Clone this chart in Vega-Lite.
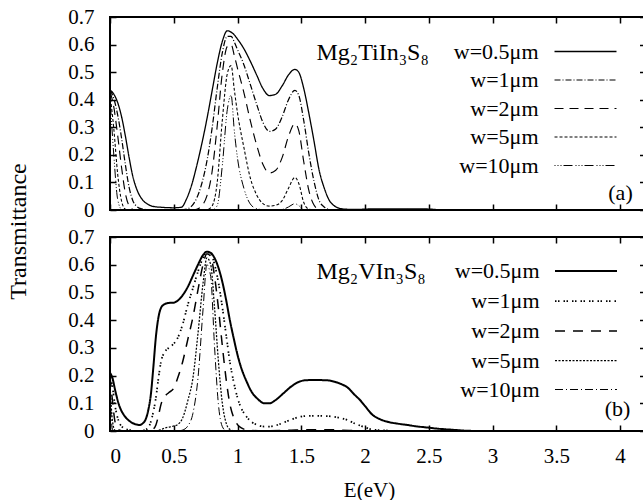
{
  "$schema": "https://vega.github.io/schema/vega-lite/v6.json",
  "autosize": {"type": "none"},
  "padding": {"left": 110, "top": 17, "right": 533, "bottom": 483},
  "background": "white",
  "bounds": "flush",
  "spacing": 27,
  "config": {
    "font": "Liberation Serif, Times New Roman, DejaVu Serif, serif",
    "view": {"stroke": "black", "strokeWidth": 2},
    "axis": {"grid": false, "domain": false, "tickColor": "black", "tickWidth": 1.5, "tickSize": -6, "labelFont": "Liberation Serif, Times New Roman, DejaVu Serif, serif", "labelFontSize": 21, "labelColor": "black", "titleFont": "Liberation Serif, Times New Roman, DejaVu Serif, serif", "titleFontWeight": "normal", "titleColor": "black"},
    "legend": {"labelFont": "Liberation Serif, Times New Roman, DejaVu Serif, serif", "labelFontSize": 22, "labelColor": "black", "padding": 0, "labelLimit": 300}
  },
  "datasets": {
    "a": [
      {"w":"w=0.5μm","E":0,"T":0.435},{"w":"w=0.5μm","E":0.03,"T":0.42},{"w":"w=0.5μm","E":0.06,"T":0.39},{"w":"w=0.5μm","E":0.09,"T":0.34},{"w":"w=0.5μm","E":0.12,"T":0.27},{"w":"w=0.5μm","E":0.15,"T":0.19},{"w":"w=0.5μm","E":0.18,"T":0.12},{"w":"w=0.5μm","E":0.21,"T":0.075},{"w":"w=0.5μm","E":0.25,"T":0.04},{"w":"w=0.5μm","E":0.3,"T":0.02},{"w":"w=0.5μm","E":0.35,"T":0.012},{"w":"w=0.5μm","E":0.4,"T":0.01},{"w":"w=0.5μm","E":0.5,"T":0.008},{"w":"w=0.5μm","E":0.56,"T":0.01},{"w":"w=0.5μm","E":0.6,"T":0.04},{"w":"w=0.5μm","E":0.64,"T":0.09},{"w":"w=0.5μm","E":0.68,"T":0.16},{"w":"w=0.5μm","E":0.72,"T":0.24},{"w":"w=0.5μm","E":0.76,"T":0.33},{"w":"w=0.5μm","E":0.8,"T":0.43},{"w":"w=0.5μm","E":0.84,"T":0.53},{"w":"w=0.5μm","E":0.88,"T":0.61},{"w":"w=0.5μm","E":0.92,"T":0.65},{"w":"w=0.5μm","E":0.95,"T":0.645},{"w":"w=0.5μm","E":0.975,"T":0.635},{"w":"w=0.5μm","E":1.0,"T":0.62},{"w":"w=0.5μm","E":1.05,"T":0.585},{"w":"w=0.5μm","E":1.1,"T":0.54},{"w":"w=0.5μm","E":1.15,"T":0.49},{"w":"w=0.5μm","E":1.2,"T":0.44},{"w":"w=0.5μm","E":1.25,"T":0.415},{"w":"w=0.5μm","E":1.3,"T":0.42},{"w":"w=0.5μm","E":1.35,"T":0.45},{"w":"w=0.5μm","E":1.4,"T":0.49},{"w":"w=0.5μm","E":1.45,"T":0.51},{"w":"w=0.5μm","E":1.48,"T":0.5},{"w":"w=0.5μm","E":1.52,"T":0.44},{"w":"w=0.5μm","E":1.56,"T":0.35},{"w":"w=0.5μm","E":1.6,"T":0.25},{"w":"w=0.5μm","E":1.64,"T":0.145},{"w":"w=0.5μm","E":1.68,"T":0.08},{"w":"w=0.5μm","E":1.72,"T":0.035},{"w":"w=0.5μm","E":1.76,"T":0.015},{"w":"w=0.5μm","E":1.8,"T":0.006},{"w":"w=0.5μm","E":1.85,"T":0.003},{"w":"w=0.5μm","E":1.9,"T":0.002},{"w":"w=0.5μm","E":2.0,"T":0.003},{"w":"w=0.5μm","E":2.05,"T":0.004},{"w":"w=0.5μm","E":2.45,"T":0.004},{"w":"w=0.5μm","E":2.6,"T":0},
      {"w":"w=1μm","E":0,"T":0.435},{"w":"w=1μm","E":0.03,"T":0.404},{"w":"w=1μm","E":0.06,"T":0.345},{"w":"w=1μm","E":0.09,"T":0.263},{"w":"w=1μm","E":0.12,"T":0.166},{"w":"w=1μm","E":0.15,"T":0.082},{"w":"w=1μm","E":0.18,"T":0.033},{"w":"w=1μm","E":0.21,"T":0.013},{"w":"w=1μm","E":0.25,"T":0.004},{"w":"w=1μm","E":0.3,"T":0.001},{"w":"w=1μm","E":0.35,"T":0},{"w":"w=1μm","E":0.56,"T":0},{"w":"w=1μm","E":0.6,"T":0.003},{"w":"w=1μm","E":0.64,"T":0.014},{"w":"w=1μm","E":0.68,"T":0.043},{"w":"w=1μm","E":0.72,"T":0.096},{"w":"w=1μm","E":0.76,"T":0.177},{"w":"w=1μm","E":0.8,"T":0.294},{"w":"w=1μm","E":0.84,"T":0.439},{"w":"w=1μm","E":0.88,"T":0.568},{"w":"w=1μm","E":0.92,"T":0.63},{"w":"w=1μm","E":0.95,"T":0.63},{"w":"w=1μm","E":0.975,"T":0.609},{"w":"w=1μm","E":1.0,"T":0.582},{"w":"w=1μm","E":1.05,"T":0.527},{"w":"w=1μm","E":1.1,"T":0.456},{"w":"w=1μm","E":1.15,"T":0.384},{"w":"w=1μm","E":1.2,"T":0.317},{"w":"w=1μm","E":1.25,"T":0.285},{"w":"w=1μm","E":1.3,"T":0.294},{"w":"w=1μm","E":1.35,"T":0.338},{"w":"w=1μm","E":1.4,"T":0.4},{"w":"w=1μm","E":1.45,"T":0.434},{"w":"w=1μm","E":1.48,"T":0.417},{"w":"w=1μm","E":1.52,"T":0.323},{"w":"w=1μm","E":1.56,"T":0.204},{"w":"w=1μm","E":1.6,"T":0.104},{"w":"w=1μm","E":1.64,"T":0.035},{"w":"w=1μm","E":1.68,"T":0.011},{"w":"w=1μm","E":1.72,"T":0.002},{"w":"w=1μm","E":1.76,"T":0},{"w":"w=1μm","E":2.0,"T":0},
      {"w":"w=2μm","E":0,"T":0.43},{"w":"w=2μm","E":0.03,"T":0.373},{"w":"w=2μm","E":0.06,"T":0.271},{"w":"w=2μm","E":0.09,"T":0.157},{"w":"w=2μm","E":0.12,"T":0.062},{"w":"w=2μm","E":0.15,"T":0.015},{"w":"w=2μm","E":0.18,"T":0.002},{"w":"w=2μm","E":0.21,"T":0},{"w":"w=2μm","E":0.64,"T":0},{"w":"w=2μm","E":0.68,"T":0.003},{"w":"w=2μm","E":0.72,"T":0.015},{"w":"w=2μm","E":0.76,"T":0.051},{"w":"w=2μm","E":0.8,"T":0.137},{"w":"w=2μm","E":0.84,"T":0.301},{"w":"w=2μm","E":0.88,"T":0.493},{"w":"w=2μm","E":0.92,"T":0.593},{"w":"w=2μm","E":0.95,"T":0.6},{"w":"w=2μm","E":0.975,"T":0.56},{"w":"w=2μm","E":1.0,"T":0.514},{"w":"w=2μm","E":1.05,"T":0.426},{"w":"w=2μm","E":1.1,"T":0.325},{"w":"w=2μm","E":1.15,"T":0.236},{"w":"w=2μm","E":1.2,"T":0.165},{"w":"w=2μm","E":1.25,"T":0.134},{"w":"w=2μm","E":1.3,"T":0.144},{"w":"w=2μm","E":1.35,"T":0.19},{"w":"w=2μm","E":1.4,"T":0.267},{"w":"w=2μm","E":1.45,"T":0.313},{"w":"w=2μm","E":1.48,"T":0.289},{"w":"w=2μm","E":1.52,"T":0.174},{"w":"w=2μm","E":1.56,"T":0.07},{"w":"w=2μm","E":1.6,"T":0.018},{"w":"w=2μm","E":1.64,"T":0.002},{"w":"w=2μm","E":1.68,"T":0},{"w":"w=2μm","E":2.0,"T":0},
      {"w":"w=5μm","E":0,"T":0.42},{"w":"w=5μm","E":0.03,"T":0.294},{"w":"w=5μm","E":0.06,"T":0.131},{"w":"w=5μm","E":0.09,"T":0.034},{"w":"w=5μm","E":0.12,"T":0.003},{"w":"w=5μm","E":0.15,"T":0},{"w":"w=5μm","E":0.72,"T":0},{"w":"w=5μm","E":0.76,"T":0.001},{"w":"w=5μm","E":0.8,"T":0.014},{"w":"w=5μm","E":0.84,"T":0.097},{"w":"w=5μm","E":0.88,"T":0.321},{"w":"w=5μm","E":0.92,"T":0.494},{"w":"w=5μm","E":0.95,"T":0.524},{"w":"w=5μm","E":0.975,"T":0.436},{"w":"w=5μm","E":1.0,"T":0.352},{"w":"w=5μm","E":1.05,"T":0.227},{"w":"w=5μm","E":1.1,"T":0.117},{"w":"w=5μm","E":1.15,"T":0.055},{"w":"w=5μm","E":1.2,"T":0.023},{"w":"w=5μm","E":1.25,"T":0.014},{"w":"w=5μm","E":1.3,"T":0.017},{"w":"w=5μm","E":1.35,"T":0.034},{"w":"w=5μm","E":1.4,"T":0.079},{"w":"w=5μm","E":1.45,"T":0.118},{"w":"w=5μm","E":1.48,"T":0.097},{"w":"w=5μm","E":1.52,"T":0.027},{"w":"w=5μm","E":1.56,"T":0.003},{"w":"w=5μm","E":1.6,"T":0},{"w":"w=5μm","E":2.0,"T":0},
      {"w":"w=10μm","E":0,"T":0.41},{"w":"w=10μm","E":0.03,"T":0.198},{"w":"w=10μm","E":0.06,"T":0.039},{"w":"w=10μm","E":0.09,"T":0.003},{"w":"w=10μm","E":0.12,"T":0},{"w":"w=10μm","E":0.8,"T":0},{"w":"w=10μm","E":0.84,"T":0.015},{"w":"w=10μm","E":0.88,"T":0.157},{"w":"w=10μm","E":0.92,"T":0.364},{"w":"w=10μm","E":0.95,"T":0.416},{"w":"w=10μm","E":0.975,"T":0.287},{"w":"w=10μm","E":1.0,"T":0.188},{"w":"w=10μm","E":1.05,"T":0.079},{"w":"w=10μm","E":1.1,"T":0.022},{"w":"w=10μm","E":1.15,"T":0.005},{"w":"w=10μm","E":1.2,"T":0.001},{"w":"w=10μm","E":1.25,"T":0},{"w":"w=10μm","E":1.35,"T":0.002},{"w":"w=10μm","E":1.4,"T":0.011},{"w":"w=10μm","E":1.45,"T":0.023},{"w":"w=10μm","E":1.48,"T":0.016},{"w":"w=10μm","E":1.52,"T":0.001},{"w":"w=10μm","E":1.56,"T":0},{"w":"w=10μm","E":2.0,"T":0}
    ],
    "b": [
      {"w":"w=0.5μm","E":0,"T":0.21},{"w":"w=0.5μm","E":0.02,"T":0.19},{"w":"w=0.5μm","E":0.04,"T":0.148},{"w":"w=0.5μm","E":0.07,"T":0.095},{"w":"w=0.5μm","E":0.11,"T":0.057},{"w":"w=0.5μm","E":0.15,"T":0.037},{"w":"w=0.5μm","E":0.19,"T":0.026},{"w":"w=0.5μm","E":0.23,"T":0.022},{"w":"w=0.5μm","E":0.27,"T":0.034},{"w":"w=0.5μm","E":0.3,"T":0.075},{"w":"w=0.5μm","E":0.32,"T":0.13},{"w":"w=0.5μm","E":0.34,"T":0.23},{"w":"w=0.5μm","E":0.36,"T":0.34},{"w":"w=0.5μm","E":0.38,"T":0.41},{"w":"w=0.5μm","E":0.4,"T":0.444},{"w":"w=0.5μm","E":0.43,"T":0.458},{"w":"w=0.5μm","E":0.46,"T":0.462},{"w":"w=0.5μm","E":0.5,"T":0.463},{"w":"w=0.5μm","E":0.53,"T":0.47},{"w":"w=0.5μm","E":0.57,"T":0.49},{"w":"w=0.5μm","E":0.61,"T":0.52},{"w":"w=0.5μm","E":0.65,"T":0.56},{"w":"w=0.5μm","E":0.69,"T":0.6},{"w":"w=0.5μm","E":0.73,"T":0.635},{"w":"w=0.5μm","E":0.76,"T":0.647},{"w":"w=0.5μm","E":0.79,"T":0.643},{"w":"w=0.5μm","E":0.82,"T":0.624},{"w":"w=0.5μm","E":0.85,"T":0.59},{"w":"w=0.5μm","E":0.88,"T":0.54},{"w":"w=0.5μm","E":0.91,"T":0.475},{"w":"w=0.5μm","E":0.94,"T":0.4},{"w":"w=0.5μm","E":0.97,"T":0.335},{"w":"w=0.5μm","E":1.0,"T":0.275},{"w":"w=0.5μm","E":1.03,"T":0.227},{"w":"w=0.5μm","E":1.07,"T":0.18},{"w":"w=0.5μm","E":1.11,"T":0.142},{"w":"w=0.5μm","E":1.16,"T":0.115},{"w":"w=0.5μm","E":1.21,"T":0.1},{"w":"w=0.5μm","E":1.25,"T":0.1},{"w":"w=0.5μm","E":1.3,"T":0.112},{"w":"w=0.5μm","E":1.36,"T":0.136},{"w":"w=0.5μm","E":1.42,"T":0.16},{"w":"w=0.5μm","E":1.48,"T":0.177},{"w":"w=0.5μm","E":1.53,"T":0.183},{"w":"w=0.5μm","E":1.6,"T":0.184},{"w":"w=0.5μm","E":1.7,"T":0.183},{"w":"w=0.5μm","E":1.76,"T":0.178},{"w":"w=0.5μm","E":1.82,"T":0.168},{"w":"w=0.5μm","E":1.86,"T":0.158},{"w":"w=0.5μm","E":1.92,"T":0.13},{"w":"w=0.5μm","E":1.96,"T":0.112},{"w":"w=0.5μm","E":2.0,"T":0.09},{"w":"w=0.5μm","E":2.06,"T":0.058},{"w":"w=0.5μm","E":2.12,"T":0.042},{"w":"w=0.5μm","E":2.17,"T":0.034},{"w":"w=0.5μm","E":2.25,"T":0.027},{"w":"w=0.5μm","E":2.33,"T":0.022},{"w":"w=0.5μm","E":2.4,"T":0.017},{"w":"w=0.5μm","E":2.48,"T":0.013},{"w":"w=0.5μm","E":2.58,"T":0.008},{"w":"w=0.5μm","E":2.67,"T":0.005},{"w":"w=0.5μm","E":2.8,"T":0.001},{"w":"w=0.5μm","E":2.9,"T":0},
      {"w":"w=1μm","E":0,"T":0.205},{"w":"w=1μm","E":0.02,"T":0.157},{"w":"w=1μm","E":0.04,"T":0.09},{"w":"w=1μm","E":0.07,"T":0.034},{"w":"w=1μm","E":0.11,"T":0.01},{"w":"w=1μm","E":0.15,"T":0.004},{"w":"w=1μm","E":0.19,"T":0.001},{"w":"w=1μm","E":0.23,"T":0},{"w":"w=1μm","E":0.27,"T":0.003},{"w":"w=1μm","E":0.3,"T":0.012},{"w":"w=1μm","E":0.33,"T":0.05},{"w":"w=1μm","E":0.36,"T":0.12},{"w":"w=1μm","E":0.38,"T":0.19},{"w":"w=1μm","E":0.4,"T":0.25},{"w":"w=1μm","E":0.43,"T":0.285},{"w":"w=1μm","E":0.46,"T":0.3},{"w":"w=1μm","E":0.5,"T":0.315},{"w":"w=1μm","E":0.53,"T":0.335},{"w":"w=1μm","E":0.57,"T":0.385},{"w":"w=1μm","E":0.61,"T":0.455},{"w":"w=1μm","E":0.65,"T":0.515},{"w":"w=1μm","E":0.69,"T":0.575},{"w":"w=1μm","E":0.73,"T":0.625},{"w":"w=1μm","E":0.76,"T":0.645},{"w":"w=1μm","E":0.79,"T":0.64},{"w":"w=1μm","E":0.82,"T":0.601},{"w":"w=1μm","E":0.85,"T":0.537},{"w":"w=1μm","E":0.88,"T":0.45},{"w":"w=1μm","E":0.91,"T":0.35},{"w":"w=1μm","E":0.94,"T":0.25},{"w":"w=1μm","E":0.97,"T":0.177},{"w":"w=1μm","E":1.0,"T":0.12},{"w":"w=1μm","E":1.03,"T":0.082},{"w":"w=1μm","E":1.07,"T":0.052},{"w":"w=1μm","E":1.11,"T":0.033},{"w":"w=1μm","E":1.16,"T":0.021},{"w":"w=1μm","E":1.21,"T":0.016},{"w":"w=1μm","E":1.25,"T":0.016},{"w":"w=1μm","E":1.3,"T":0.02},{"w":"w=1μm","E":1.36,"T":0.03},{"w":"w=1μm","E":1.42,"T":0.041},{"w":"w=1μm","E":1.48,"T":0.05},{"w":"w=1μm","E":1.53,"T":0.054},{"w":"w=1μm","E":1.6,"T":0.055},{"w":"w=1μm","E":1.7,"T":0.054},{"w":"w=1μm","E":1.76,"T":0.051},{"w":"w=1μm","E":1.82,"T":0.0455},{"w":"w=1μm","E":1.86,"T":0.04},{"w":"w=1μm","E":1.92,"T":0.027},{"w":"w=1μm","E":1.96,"T":0.02},{"w":"w=1μm","E":2.0,"T":0.013},{"w":"w=1μm","E":2.06,"T":0.005},{"w":"w=1μm","E":2.12,"T":0.003},{"w":"w=1μm","E":2.17,"T":0.002},{"w":"w=1μm","E":2.25,"T":0},{"w":"w=1μm","E":2.6,"T":0},
      {"w":"w=2μm","E":0,"T":0.196},{"w":"w=2μm","E":0.02,"T":0.107},{"w":"w=2μm","E":0.04,"T":0.032},{"w":"w=2μm","E":0.07,"T":0.004},{"w":"w=2μm","E":0.11,"T":0},{"w":"w=2μm","E":0.3,"T":0},{"w":"w=2μm","E":0.33,"T":0.004},{"w":"w=2μm","E":0.36,"T":0.022},{"w":"w=2μm","E":0.38,"T":0.055},{"w":"w=2μm","E":0.4,"T":0.096},{"w":"w=2μm","E":0.43,"T":0.125},{"w":"w=2μm","E":0.46,"T":0.138},{"w":"w=2μm","E":0.5,"T":0.155},{"w":"w=2μm","E":0.53,"T":0.19},{"w":"w=2μm","E":0.57,"T":0.25},{"w":"w=2μm","E":0.61,"T":0.33},{"w":"w=2μm","E":0.65,"T":0.41},{"w":"w=2μm","E":0.69,"T":0.509},{"w":"w=2μm","E":0.73,"T":0.601},{"w":"w=2μm","E":0.76,"T":0.64},{"w":"w=2μm","E":0.79,"T":0.63},{"w":"w=2μm","E":0.82,"T":0.558},{"w":"w=2μm","E":0.85,"T":0.445},{"w":"w=2μm","E":0.88,"T":0.312},{"w":"w=2μm","E":0.91,"T":0.19},{"w":"w=2μm","E":0.94,"T":0.098},{"w":"w=2μm","E":0.97,"T":0.049},{"w":"w=2μm","E":1.0,"T":0.023},{"w":"w=2μm","E":1.03,"T":0.011},{"w":"w=2μm","E":1.07,"T":0.004},{"w":"w=2μm","E":1.11,"T":0.002},{"w":"w=2μm","E":1.21,"T":0.0005},{"w":"w=2μm","E":1.42,"T":0.003},{"w":"w=2μm","E":1.53,"T":0.0045},{"w":"w=2μm","E":1.7,"T":0.0047},{"w":"w=2μm","E":1.82,"T":0.003},{"w":"w=2μm","E":1.96,"T":0.0006},{"w":"w=2μm","E":2.06,"T":0},
      {"w":"w=5μm","E":0,"T":0.17},{"w":"w=5μm","E":0.02,"T":0.034},{"w":"w=5μm","E":0.04,"T":0.002},{"w":"w=5μm","E":0.07,"T":0},{"w":"w=5μm","E":0.36,"T":0},{"w":"w=5μm","E":0.4,"T":0.005},{"w":"w=5μm","E":0.43,"T":0.011},{"w":"w=5μm","E":0.46,"T":0.014},{"w":"w=5μm","E":0.5,"T":0.018},{"w":"w=5μm","E":0.53,"T":0.023},{"w":"w=5μm","E":0.57,"T":0.047},{"w":"w=5μm","E":0.61,"T":0.109},{"w":"w=5μm","E":0.65,"T":0.19},{"w":"w=5μm","E":0.69,"T":0.352},{"w":"w=5μm","E":0.73,"T":0.534},{"w":"w=5μm","E":0.76,"T":0.625},{"w":"w=5μm","E":0.79,"T":0.6},{"w":"w=5μm","E":0.82,"T":0.444},{"w":"w=5μm","E":0.85,"T":0.253},{"w":"w=5μm","E":0.88,"T":0.104},{"w":"w=5μm","E":0.91,"T":0.03},{"w":"w=5μm","E":0.94,"T":0.006},{"w":"w=5μm","E":0.97,"T":0.001},{"w":"w=5μm","E":1.0,"T":0},{"w":"w=5μm","E":2.0,"T":0},
      {"w":"w=10μm","E":0,"T":0.135},{"w":"w=10μm","E":0.02,"T":0.005},{"w":"w=10μm","E":0.04,"T":0},{"w":"w=10μm","E":0.53,"T":0},{"w":"w=10μm","E":0.57,"T":0.0035},{"w":"w=10μm","E":0.61,"T":0.018},{"w":"w=10μm","E":0.65,"T":0.063},{"w":"w=10μm","E":0.69,"T":0.191},{"w":"w=10μm","E":0.73,"T":0.44},{"w":"w=10μm","E":0.76,"T":0.6},{"w":"w=10μm","E":0.79,"T":0.557},{"w":"w=10μm","E":0.82,"T":0.304},{"w":"w=10μm","E":0.85,"T":0.098},{"w":"w=10μm","E":0.88,"T":0.017},{"w":"w=10μm","E":0.91,"T":0.001},{"w":"w=10μm","E":0.94,"T":0},{"w":"w=10μm","E":2.0,"T":0}
    ]
  },
  "vconcat": [
    {
      "width": 535.5,
      "height": 193,
      "data": {"name": "a"},
      "layer": [
        {
          "mark": {"type": "line", "interpolate": "monotone", "color": "black"},
          "encoding": {
            "x": {"field": "E", "type": "quantitative", "scale": {"domain": [0, 4.2], "nice": false, "zero": false}, "axis": {"orient": "bottom", "values": [0,0.5,1,1.5,2,2.5,3,3.5,4], "labels": false, "title": null}},
            "y": {"field": "T", "type": "quantitative", "scale": {"domain": [0, 0.7], "nice": false}, "axis": {"orient": "left", "values": [0,0.1,0.2,0.3,0.4,0.5,0.6,0.7], "format": "~g", "labelPadding": 22, "title": null}},
            "strokeDash": {"field": "w", "type": "ordinal", "scale": {"domain": ["w=0.5μm","w=1μm","w=2μm","w=5μm","w=10μm"], "range": [[1,0],[6,2,1,2],[9,6],[3,2],[1,2,1,2,1,2,9,3]]}, "legend": {"orient": "none", "legendX": 444, "legendY": 23.5, "title": null, "symbolType": "M-3,0H3", "symbolSize": 427, "symbolStrokeColor": "black", "symbolFillColor": "transparent", "symbolOffset": 20.5, "labelAlign": "right", "labelOffset": -58, "rowPadding": 6.5}},
            "strokeWidth": {"field": "w", "type": "ordinal", "scale": {"domain": ["w=0.5μm","w=1μm","w=2μm","w=5μm","w=10μm"], "range": [1.3,1,1.6,1,1.3]}, "legend": {"orient": "none", "legendX": 444, "legendY": 23.5, "title": null, "symbolType": "M-3,0H3", "symbolSize": 427, "symbolStrokeColor": "black", "symbolFillColor": "transparent", "symbolOffset": 20.5, "labelAlign": "right", "labelOffset": -58, "rowPadding": 6.5}}
          }
        },
        {
          "mark": {"type": "point", "opacity": 0},
          "encoding": {
            "x": {"field": "E", "type": "quantitative", "axis": {"orient": "top", "values": [0,0.5,1,1.5,2,2.5,3,3.5,4], "labels": false, "title": "Mg₂TiIn₃S₈", "titleX": 206, "titleY": 35, "titleAlign": "left", "titleBaseline": "middle", "titleFontSize": 24, "titleAngle": 0}},
            "y": {"field": "T", "type": "quantitative", "axis": {"orient": "right", "values": [0,0.1,0.2,0.3,0.4,0.5,0.6,0.7], "labels": false, "title": "(a)", "titleAngle": 0, "titleX": -25.5, "titleY": 175, "titleAlign": "center", "titleBaseline": "middle", "titleFontSize": 22}}
          }
        }
      ],
      "resolve": {"axis": {"x": "independent", "y": "independent"}}
    },
    {
      "width": 535.5,
      "height": 194,
      "data": {"name": "b"},
      "layer": [
        {
          "mark": {"type": "line", "interpolate": "monotone", "color": "black"},
          "encoding": {
            "x": {"field": "E", "type": "quantitative", "scale": {"domain": [0, 4.2], "nice": false, "zero": false}, "axis": {"orient": "bottom", "values": [0,0.5,1,1.5,2,2.5,3,3.5,4], "format": "~g", "labelPadding": 20, "title": "E(eV)", "titleX": 259, "titleY": 59, "titleAlign": "center", "titleBaseline": "middle", "titleFontSize": 21}},
            "y": {"field": "T", "type": "quantitative", "scale": {"domain": [0, 0.7], "nice": false}, "axis": {"orient": "left", "values": [0,0.1,0.2,0.3,0.4,0.5,0.6,0.7], "format": "~g", "labelPadding": 22, "title": "Transmittance", "titleAngle": 270, "titleX": -92, "titleY": -6, "titleAlign": "center", "titleBaseline": "middle", "titleFontSize": 24}},
            "strokeDash": {"field": "w", "type": "ordinal", "scale": {"domain": ["w=0.5μm","w=1μm","w=2μm","w=5μm","w=10μm"], "range": [[1,0],[1.5,1.5,1.5,4],[10,8],[2,1.5],[8,3,1,3]]}, "legend": {"orient": "none", "legendX": 444, "legendY": 22.5, "title": null, "symbolType": "M-3,0H3", "symbolSize": 427, "symbolStrokeColor": "black", "symbolFillColor": "transparent", "symbolOffset": 20.5, "labelAlign": "right", "labelOffset": -58, "rowPadding": 7}},
            "strokeWidth": {"field": "w", "type": "ordinal", "scale": {"domain": ["w=0.5μm","w=1μm","w=2μm","w=5μm","w=10μm"], "range": [2,1,1,1.5,1]}, "legend": {"orient": "none", "legendX": 444, "legendY": 22.5, "title": null, "symbolType": "M-3,0H3", "symbolSize": 427, "symbolStrokeColor": "black", "symbolFillColor": "transparent", "symbolOffset": 20.5, "labelAlign": "right", "labelOffset": -58, "rowPadding": 7}}
          }
        },
        {
          "mark": {"type": "point", "opacity": 0},
          "encoding": {
            "x": {"field": "E", "type": "quantitative", "axis": {"orient": "top", "values": [0,0.5,1,1.5,2,2.5,3,3.5,4], "labels": false, "title": "Mg₂VIn₃S₈", "titleX": 206, "titleY": 34, "titleAlign": "left", "titleBaseline": "middle", "titleFontSize": 24, "titleAngle": 0}},
            "y": {"field": "T", "type": "quantitative", "axis": {"orient": "right", "values": [0,0.1,0.2,0.3,0.4,0.5,0.6,0.7], "labels": false, "title": "(b)", "titleAngle": 0, "titleX": -28.5, "titleY": 171, "titleAlign": "center", "titleBaseline": "middle", "titleFontSize": 22}}
          }
        }
      ],
      "resolve": {"axis": {"x": "independent", "y": "independent"}}
    }
  ],
  "resolve": {"scale": {"strokeDash": "independent", "strokeWidth": "independent"}, "legend": {"strokeDash": "independent", "strokeWidth": "independent"}}
}
